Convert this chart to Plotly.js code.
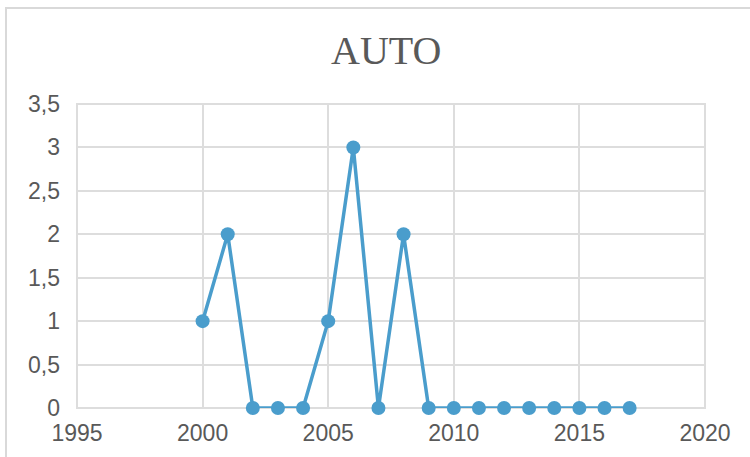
<!DOCTYPE html>
<html>
<head>
<meta charset="utf-8">
<script src="https://cdn.plot.ly/plotly-3.0.1.min.js"></script>
<style>
html,body{margin:0;padding:0;background:#fff;}
#chart{width:750px;height:457px;}
</style>
</head>
<body>
<div id="chart"></div>
<script>
const years = [2000, 2001, 2002, 2003, 2004, 2005, 2006, 2007, 2008, 2009, 2010, 2011, 2012, 2013, 2014, 2015, 2016, 2017];
const values = [1, 2, 0, 0, 0, 1, 3, 0, 2, 0, 0, 0, 0, 0, 0, 0, 0, 0];
const chartTitle = "AUTO";

const trace = {
  x: years,
  y: values,
  type: "scatter",
  mode: "lines+markers",
  line: {color: "#4a9dcc", width: 3.5},
  marker: {color: "#4a9dcc", size: 14},
  cliponaxis: false,
  hoverinfo: "none"
};

const layout = {
  width: 750,
  height: 457,
  margin: {l: 77, r: 45, t: 104, b: 49},
  paper_bgcolor: "#ffffff",
  plot_bgcolor: "#ffffff",
  separators: ",.",
  showlegend: false,
  title: {
    text: chartTitle,
    font: {family: "Liberation Serif, Times New Roman, serif", size: 40, color: "#595959"},
    x: 0.515, xref: "container", xanchor: "center",
    y: 1 - 50/457, yref: "container", yanchor: "middle"
  },
  xaxis: {
    range: [1995, 2020],
    dtick: 5,
    tick0: 1995,
    showgrid: true,
    gridcolor: "#dddddd",
    gridwidth: 2,
    zeroline: false,
    showline: false,
    ticks: "",
    ticklabelstandoff: 9,
    tickfont: {family: "Liberation Sans, Arial, sans-serif", size: 23, color: "#595959"}
  },
  yaxis: {
    range: [0, 3.5],
    dtick: 0.5,
    tick0: 0,
    showgrid: true,
    gridcolor: "#dddddd",
    gridwidth: 2,
    zeroline: false,
    showline: false,
    ticks: "",
    ticklabelstandoff: 16,
    tickfont: {family: "Liberation Sans, Arial, sans-serif", size: 23, color: "#595959"}
  },
  shapes: [
    {type: "rect", xref: "paper", yref: "paper",
     x0: 0, x1: 1, y0: 0, y1: 1,
     line: {color: "#dddddd", width: 2}, layer: "below"},
    {type: "rect", xref: "paper", yref: "paper",
     x0: (6-77)/628, x1: 1.2, y0: -0.5, y1: (408-8)/304,
     line: {color: "#d9d9d9", width: 2}, layer: "below"}
  ]
};

Plotly.newPlot("chart", [trace], layout, {staticPlot: true, displayModeBar: false});
</script>
</body>
</html>
